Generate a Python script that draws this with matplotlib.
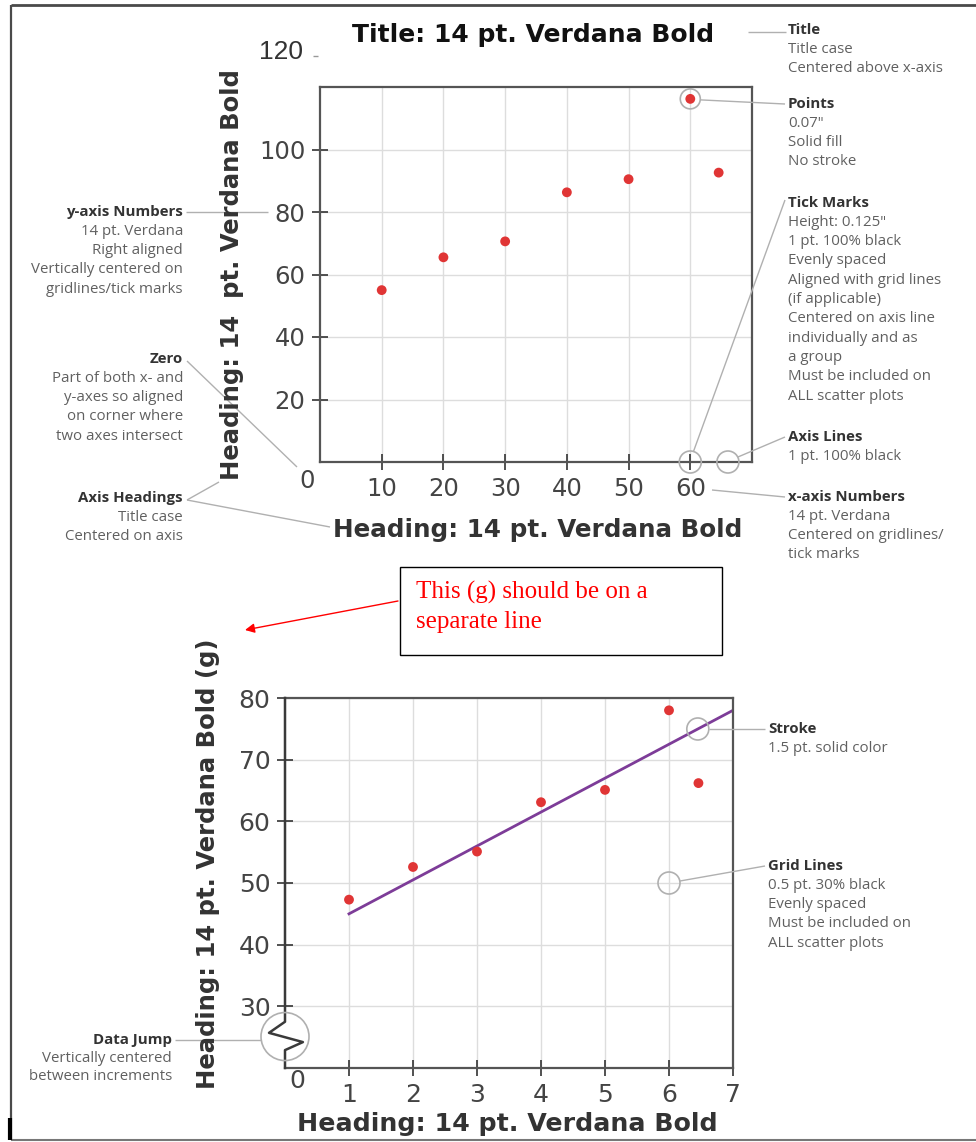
import matplotlib
matplotlib.use("Agg")
import matplotlib.pyplot as plt
from matplotlib.patches import Circle, Rectangle

W, H = 976, 1142

# ---------------- data ----------------
top_x = [10, 20, 30, 40, 50, 60, 64.6]
top_y = [55, 65.5, 70.6, 86.3, 90.5, 116.2, 92.6]
top_xticks = [10, 20, 30, 40, 50, 60]
top_yticks = [20, 40, 60, 80, 100]

bot_x = [1, 2, 3, 4, 5, 6, 6.46]
bot_y = [47.3, 52.6, 55.1, 63.1, 65.1, 78.0, 66.2]
trend_x = [1, 7]
trend_y = [45, 78]
bot_xticks = [1, 2, 3, 4, 5, 6, 7]
bot_yticks = [30, 40, 50, 60, 70, 80]

title_text = "Title: 14 pt. Verdana Bold"
top_xlabel = "Heading: 14 pt. Verdana Bold"
top_ylabel = "Heading: 14  pt. Verdana Bold"
bot_xlabel = "Heading: 14 pt. Verdana Bold"
bot_ylabel = "Heading: 14 pt. Verdana Bold (g)"

RED = "#e03535"
PURPLE = "#7d3c98"
FRAME = "#555555"
GRID = "#dddddd"
LEAD = "#b0b0b0"
HEAD_C = "#333333"
BODY_C = "#606060"
TICK_C = "#444444"
ANN_FONT = ["Open Sans", "DejaVu Sans"]
ANN_FS = 10.8

fig = plt.figure(figsize=(W / 100, H / 100), dpi=100)


def px_axes(l, t, r, b):
    return fig.add_axes([l / W, 1 - b / H, (r - l) / W, (b - t) / H])


def style(ax, fs):
    for s in ax.spines.values():
        s.set_color(FRAME)
        s.set_linewidth(1.6)
    ax.tick_params(direction="inout", length=11, width=1.2, color="#333333",
                   labelsize=fs, labelcolor=TICK_C, pad=5)
    ax.grid(True, color=GRID, lw=1)
    ax.set_axisbelow(True)


# ---------------- top chart ----------------
ax1 = px_axes(320, 87, 752, 462)
ax1.set_xlim(0, 70)
ax1.set_ylim(0, 120)
ax1.set_xticks(top_xticks)
ax1.set_yticks(top_yticks)
style(ax1, 17.5)
ax1.scatter(top_x, top_y, s=50, color=RED, edgecolors="none", zorder=3)

# ---------------- bottom chart ----------------
ax2 = px_axes(285, 698, 733, 1068)
ax2.set_xlim(0, 7)
ax2.set_ylim(20, 80)
ax2.set_xticks(bot_xticks)
ax2.set_yticks(bot_yticks)
style(ax2, 18)
ax2.spines["left"].set_visible(False)
ax2.plot(trend_x, trend_y, color=PURPLE, lw=2, zorder=2)
ax2.scatter(bot_x, bot_y, s=50, color=RED, edgecolors="none", zorder=3)
# broken left axis (data jump)
ax2.plot([0, 0, -0.25, 0.28, 0, 0], [80, 27.5, 25.7, 24.2, 22.9, 20],
         color="#3a3a3a", lw=1.8, clip_on=False, zorder=4)

# ---------------- overlay (pixel coordinates) ----------------
ov = fig.add_axes([0, 0, 1, 1], zorder=10)
ov.set_xlim(0, W)
ov.set_ylim(H, 0)
ov.axis("off")
ov.patch.set_alpha(0)


def to_px(ax, x, y):
    dx, dy = ax.transData.transform((x, y))
    return dx, H - dy


def line(xs, ys, c=LEAD, lw=1.0):
    ov.plot(xs, ys, color=c, lw=lw, solid_capstyle="butt")


def circ(x, y, r=11):
    ov.add_patch(Circle((x, y), r, fill=False, ec=LEAD, lw=1.2))


def note(x, y, head, body, ha="left", step=19.3):
    ov.text(x, y, head, ha=ha, va="center", fontsize=ANN_FS, fontweight="bold",
            color=HEAD_C, family=ANN_FONT)
    for i, b in enumerate(body):
        ov.text(x, y + step * (i + 1), b, ha=ha, va="center", fontsize=ANN_FS,
                color=BODY_C, family=ANN_FONT)


# border of the whole image
line([11, W], [5, 5], c="#4a4a4a", lw=2)
line([11, 11], [5, 1140], c="#4a4a4a", lw=1.6)
line([11, W], [1140, 1140], c="#777777", lw=1.5)
line([10, 10], [1118, 1140], c="#000000", lw=3)

# titles and headings
ov.text(533, 35, title_text, ha="center", va="center", fontsize=18,
        fontweight="bold", color="#111111")
ov.text(538, 530, top_xlabel, ha="center", va="center", fontsize=17.7,
        fontweight="bold", color=HEAD_C)
ov.text(232, 275, top_ylabel, ha="center", va="center", fontsize=17.5,
        fontweight="bold", color=HEAD_C, rotation=90)
ov.text(507, 1124, bot_xlabel, ha="center", va="center", fontsize=18.2,
        fontweight="bold", color=HEAD_C)
ov.text(208, 864, bot_ylabel, ha="center", va="center", fontsize=17.5,
        fontweight="bold", color=HEAD_C, rotation=90)

# zero labels and stray 120
ov.text(307, 481, "0", ha="center", va="center", fontsize=17.5, color=TICK_C)
ov.text(297, 1081, "0", ha="center", va="center", fontsize=18, color=TICK_C)
ov.text(303, 52, "120", ha="right", va="center", fontsize=19,
        family="Liberation Sans", color="#333333")
line([313, 318], [56, 56], c="#999999", lw=1)

# ---- right-side notes, top chart ----
line([748, 786], [32, 32])
note(788, 30, "Title", ["Title case", "Centered above x-axis"])

px6, py6 = to_px(ax1, top_x[5], top_y[5])
circ(px6, py6, 10)
line([px6 + 10, 785], [py6 + 1, 104])
note(788, 104, "Points", ['0.07"', "Solid fill", "No stroke"])

tx, ty = to_px(ax1, top_xticks[-1], 0)
circ(tx, ty, 11)
line([tx + 3, 785], [ty - 10, 200])
note(788, 203, "Tick Marks", ['Height: 0.125"', "1 pt. 100% black",
                              "Evenly spaced", "Aligned with grid lines",
                              "(if applicable)", "Centered on axis line",
                              "individually and as", "a group",
                              "Must be included on", "ALL scatter plots"])

ax_x, ax_y = to_px(ax1, 66.1, 0)
circ(ax_x, ax_y, 11)
line([ax_x + 10, 785], [ax_y - 5, 437])
note(788, 437, "Axis Lines", ["1 pt. 100% black"])

line([712, 785], [490, 497])
note(788, 497, "x-axis Numbers", ["14 pt. Verdana", "Centered on gridlines/",
                                  "tick marks"])

# ---- left-side notes, top chart ----
line([186, 268], [212, 212])
note(183, 212, "y-axis Numbers", ["14 pt. Verdana", "Right aligned",
                                  "Vertically centered on",
                                  "gridlines/tick marks"], ha="right")
line([187, 297], [361, 467])
note(183, 359, "Zero", ["Part of both x- and", "y-axes so aligned",
                        "on corner where", "two axes intersect"], ha="right")
line([187, 219], [500, 482])
line([187, 330], [500, 527])
note(183, 498, "Axis Headings", ["Title case", "Centered on axis"], ha="right")

# ---- red comment box ----
ov.add_patch(Rectangle((400, 567), 322, 88, fill=False, ec="black", lw=1))
ov.text(416, 592, "This (g) should be on a", ha="left", va="center",
        fontsize=18, family="Liberation Serif", color="#ff0000")
ov.text(416, 622, "separate line", ha="left", va="center",
        fontsize=18, family="Liberation Serif", color="#ff0000")
ov.annotate("", xy=(245, 630), xytext=(398, 601),
            arrowprops=dict(arrowstyle="-|>", color="#ff0000", lw=1,
                            mutation_scale=14, shrinkA=0, shrinkB=0))

# ---- bottom chart notes ----
sx, sy = to_px(ax2, 6.45, trend_y[0] + (trend_y[1] - trend_y[0]) * (6.45 - trend_x[0]) / (trend_x[1] - trend_x[0]))
circ(sx, sy, 11)
line([sx + 11, 765], [sy, sy])
note(768, sy, "Stroke", ["1.5 pt. solid color"])

gx, gy = to_px(ax2, 6, 50)
circ(gx, gy, 11)
line([gx + 11, 765], [gy - 2, 866])
note(768, 866, "Grid Lines", ["0.5 pt. 30% black", "Evenly spaced",
                              "Must be included on", "ALL scatter plots"])

jx, jy = to_px(ax2, 0, 25.1)
circ(jx, jy, 24)
line([175, jx - 24], [1040, 1040])
note(172, 1040, "Data Jump", ["Vertically centered", "between increments"],
     ha="right", step=18)

fig.savefig("out.png", dpi=100)
